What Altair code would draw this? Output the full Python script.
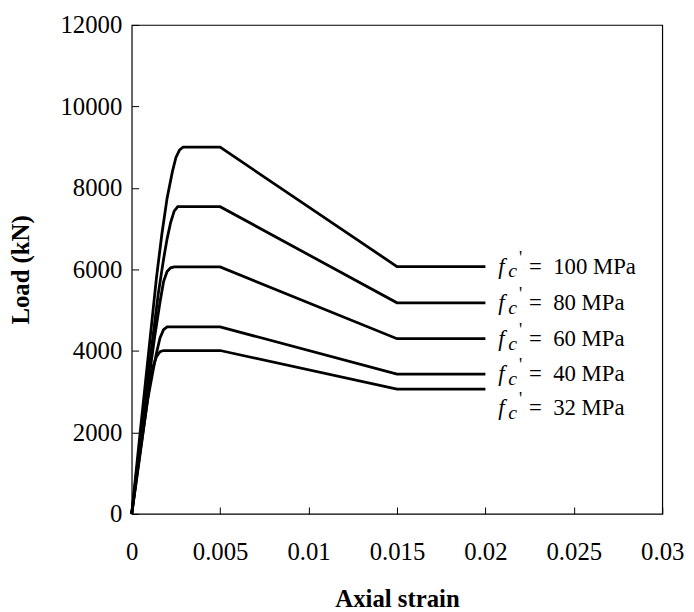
import altair as alt
import pandas as pd

# ---- data ----
strengths = [100, 80, 60, 40, 32]

strain_100 = [0, 0.0005, 0.001, 0.0014, 0.0017, 0.002, 0.0023, 0.0025, 0.0027, 0.0029, 0.005, 0.015, 0.02]
load_100 = [0, 2100, 4150, 5800, 6850, 7750, 8400, 8750, 8930, 9000, 9000, 6070, 6070]

strain_80 = [0, 0.0005, 0.001, 0.0015, 0.0018, 0.002, 0.0022, 0.0024, 0.0026, 0.005, 0.015, 0.02]
load_80 = [0, 1850, 3650, 5400, 6250, 6750, 7150, 7430, 7540, 7540, 5180, 5180]

strain_60 = [0, 0.0005, 0.001, 0.0013, 0.0016, 0.0018, 0.002, 0.0022, 0.0024, 0.005, 0.015, 0.02]
load_60 = [0, 1750, 3400, 4350, 5200, 5700, 5950, 6040, 6060, 6060, 4300, 4300]

strain_40 = [0, 0.0005, 0.0009, 0.0012, 0.0014, 0.0016, 0.0018, 0.002, 0.005, 0.015, 0.02]
load_40 = [0, 1600, 2800, 3500, 3950, 4320, 4520, 4590, 4590, 3430, 3430]

strain_32 = [0, 0.0005, 0.0008, 0.001, 0.0012, 0.0014, 0.0016, 0.0018, 0.005, 0.015, 0.02]
load_32 = [0, 1550, 2500, 3150, 3600, 3860, 3980, 4010, 4010, 3060, 3060]

residual_loads = [6070, 5180, 4300, 3430, 3060]
label_strain = 0.02

x_ticks = [0, 0.005, 0.01, 0.015, 0.02, 0.025, 0.03]
y_ticks = [0, 2000, 4000, 6000, 8000, 10000, 12000]

# ---- tables ----
strains = [strain_100, strain_80, strain_60, strain_40, strain_32]
loads = [load_100, load_80, load_60, load_40, load_32]
rows = []
for fc, s_list, l_list in zip(strengths, strains, loads):
    for s, l in zip(s_list, l_list):
        rows.append({"fc": fc, "strain": s, "load": l})
df = pd.DataFrame(rows)

label_df = pd.DataFrame({
    "fc": strengths,
    "strain": [label_strain] * len(strengths),
    "load": residual_loads,
    "rest": ["=\u00a0\u00a0" + str(v) + " MPa" for v in strengths],
})

FONT = "Liberation Serif"
AFS = 25   # axis font size
FS = 23    # annotation font size

x_enc = alt.X(
    "strain:Q",
    scale=alt.Scale(domain=[0, 0.03], nice=False),
    axis=alt.Axis(
        values=x_ticks, format=".3~f", title="Axial strain",
        offset=-7, tickSize=7, domain=False, grid=False,
        labelPadding=26, titlePadding=23, labelFlush=False, labelOverlap=False,
        labelFont=FONT, titleFont=FONT, labelFontSize=AFS, titleFontSize=AFS,
        titleFontWeight="bold", labelColor="black", titleColor="black",
        tickColor="black", tickWidth=1,
    ),
)
y_enc = alt.Y(
    "load:Q",
    scale=alt.Scale(domain=[0, 12000], nice=False),
    axis=alt.Axis(
        values=y_ticks, format="d", title="Load (kN)",
        offset=-7, tickSize=7, domain=False, grid=False,
        labelPadding=10, titlePadding=27, labelFlush=False, labelOverlap=False,
        labelFont=FONT, titleFont=FONT, labelFontSize=AFS, titleFontSize=AFS,
        titleFontWeight="bold", labelColor="black", titleColor="black",
        tickColor="black", tickWidth=1,
    ),
)

lines = alt.Chart(df).mark_line(color="black", strokeWidth=2.8).encode(
    x=x_enc, y=y_enc, detail="fc:N"
)


def label_layers(data, extra_dy):
    base = alt.Chart(data).encode(x=x_enc, y=y_enc)
    f_part = base.mark_text(
        text="f", font=FONT, fontSize=FS, fontStyle="italic", align="left",
        baseline="middle", dx=13, dy=extra_dy, color="black")
    c_part = base.mark_text(
        text="c", font=FONT, fontSize=FS - 3, fontStyle="italic", align="left",
        baseline="middle", dx=23, dy=extra_dy + 5, color="black")
    p_part = base.mark_text(
        text="'", font=FONT, fontSize=FS - 5, align="left",
        baseline="middle", dx=34, dy=extra_dy - 8, color="black")
    r_part = base.mark_text(
        font=FONT, fontSize=FS, align="left", baseline="middle",
        dx=44, dy=extra_dy, color="black").encode(text="rest:N")
    return [f_part, c_part, p_part, r_part]


top_labels = label_df[label_df["fc"] != 32]
low_labels = label_df[label_df["fc"] == 32]

chart = alt.layer(
    lines, *label_layers(top_labels, 0), *label_layers(low_labels, 19)
).properties(
    width=536, height=494,
    autosize=alt.AutoSizeParams(type="none"),
    padding={"left": 125, "top": 14, "right": 24, "bottom": 98},
    background="white",
).configure_view(stroke="black", strokeWidth=1.2)

chart.save("out.html", embed_options={"renderer": "svg", "actions": False})
